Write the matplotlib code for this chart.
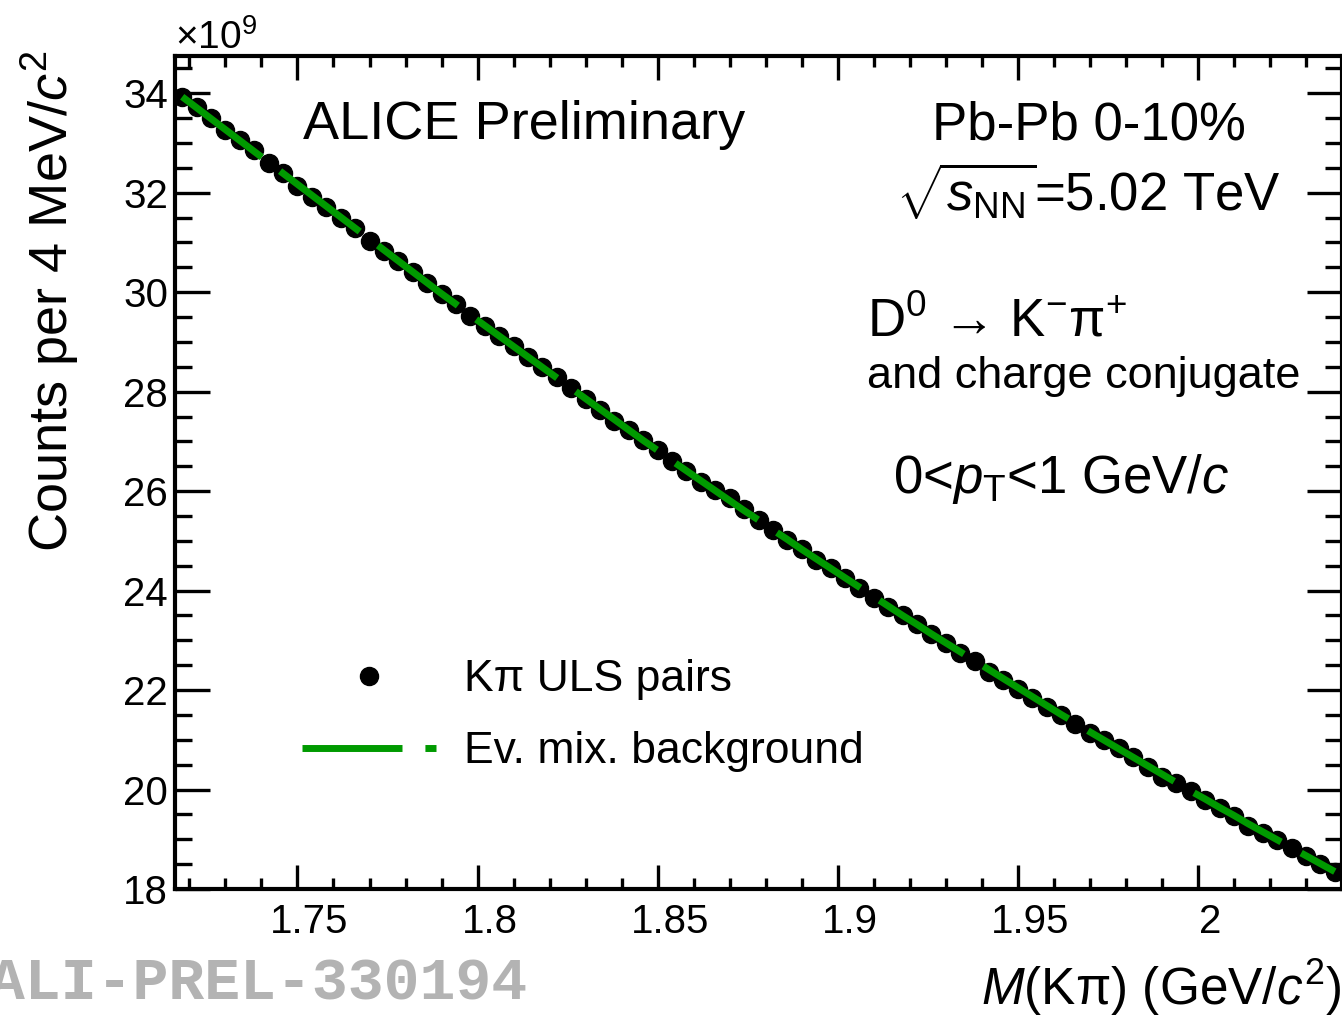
import matplotlib
matplotlib.use("Agg")
import matplotlib.pyplot as plt
import matplotlib.transforms as mtransforms
from matplotlib.ticker import MultipleLocator
import numpy as np

plt.rcParams['font.family'] = ['Liberation Sans', 'DejaVu Sans']
plt.rcParams['mathtext.fontset'] = 'custom'
plt.rcParams['mathtext.rm'] = 'Liberation Sans'
plt.rcParams['mathtext.it'] = 'Liberation Sans:italic'
plt.rcParams['mathtext.sf'] = 'Liberation Sans'

# 4 MeV bins, M(Kpi) in GeV/c^2
bin_lo = 1.716
bin_w = 0.004
n_bins = 81
mass = bin_lo + bin_w * (np.arange(n_bins) + 0.5)

# Kpi unlike-sign pairs (x 1e9)
uls_counts = [33.92, 33.73, 33.51, 33.27, 33.06, 32.85, 32.59, 32.39, 32.14, 31.92,
              31.71, 31.49, 31.29, 31.03, 30.82, 30.62, 30.41, 30.18, 29.97, 29.76,
              29.52, 29.32, 29.11, 28.91, 28.69, 28.50, 28.29, 28.07, 27.85, 27.63,
              27.42, 27.22, 27.02, 26.82, 26.61, 26.41, 26.19, 26.03, 25.86, 25.64,
              25.42, 25.22, 25.02, 24.83, 24.62, 24.45, 24.25, 24.05, 23.85, 23.68,
              23.51, 23.32, 23.13, 22.94, 22.74, 22.58, 22.37, 22.21, 22.02, 21.84,
              21.66, 21.50, 21.32, 21.14, 20.99, 20.83, 20.65, 20.46, 20.26, 20.13,
              19.98, 19.78, 19.63, 19.46, 19.27, 19.13, 18.98, 18.82, 18.66, 18.51,
              18.35]

# event-mixing background (x 1e9)
mix_bkg = [33.93, 33.71, 33.49, 33.27, 33.05, 32.83, 32.61, 32.39, 32.17, 31.95,
           31.73, 31.51, 31.29, 31.07, 30.85, 30.63, 30.41, 30.19, 29.97, 29.76,
           29.54, 29.33, 29.12, 28.91, 28.70, 28.49, 28.28, 28.07, 27.86, 27.65,
           27.44, 27.23, 27.02, 26.82, 26.61, 26.41, 26.21, 26.01, 25.81, 25.61,
           25.42, 25.22, 25.03, 24.83, 24.64, 24.45, 24.26, 24.07, 23.88, 23.69,
           23.50, 23.32, 23.13, 22.95, 22.77, 22.59, 22.41, 22.23, 22.05, 21.87,
           21.69, 21.51, 21.34, 21.16, 20.99, 20.82, 20.65, 20.48, 20.31, 20.14,
           19.97, 19.81, 19.64, 19.48, 19.31, 19.15, 18.99, 18.83, 18.67, 18.51,
           18.35]

fig = plt.figure(figsize=(13.42, 10.19), dpi=100)
ax = fig.add_axes([175/1342, 130/1019, 1167/1342, 833/1019])

ax.plot(mass, uls_counts, 'o', color='black', markersize=13, zorder=2,
        label='Kπ ULS pairs')
ax.plot(mass, mix_bkg, '-', color='#009a00', linewidth=5, dashes=(14.4, 3.3),
        zorder=3, label='Ev. mix. background')

ax.set_xlim(1.716, 2.04)
ax.set_ylim(18, 34.75)

ax.xaxis.set_major_locator(MultipleLocator(0.05))
ax.xaxis.set_minor_locator(MultipleLocator(0.01))
ax.yaxis.set_major_locator(MultipleLocator(2))
ax.yaxis.set_minor_locator(MultipleLocator(0.5))
ax.set_xticks([1.75, 1.8, 1.85, 1.9, 1.95, 2.0])
ax.set_xticklabels(['1.75', '1.8', '1.85', '1.9', '1.95', '2'])

ax.tick_params(which='both', direction='in', top=True, right=True, width=2.4,
               labelsize=29)
ax.tick_params(axis='x', which='major', length=17, pad=10)
ax.tick_params(axis='x', which='minor', length=8)
ax.tick_params(axis='y', which='major', length=25, pad=5)
ax.tick_params(axis='y', which='minor', length=12)
for sp in ax.spines.values():
    sp.set_linewidth(3)

# ROOT puts x labels a bit right of the tick
shift = mtransforms.ScaledTranslation(0.12, 0, fig.dpi_scale_trans)
for lab in ax.get_xticklabels():
    lab.set_transform(lab.get_transform() + shift)

ax.set_ylabel(r'Counts per 4 MeV/$c^{2}$', fontsize=39, loc='top')
ax.yaxis.set_label_coords(-0.107, 1.007)
ax.yaxis.label.set_va('center')
ax.set_xlabel(r'$M$(Kπ) (GeV/$c^{2}$)', fontsize=37, loc='right')
ax.xaxis.set_label_coords(1.0, -0.139)
ax.xaxis.label.set_va('baseline')

ax.text(0.0, 1.008, r'$\times$10$^{9}$', transform=ax.transAxes, fontsize=28,
        ha='left', va='baseline')

ax.text(0.110, 0.900, 'ALICE Preliminary', transform=ax.transAxes, fontsize=39,
        ha='left', va='baseline')
ax.text(0.783, 0.900, 'Pb-Pb 0-10%', transform=ax.transAxes, fontsize=38,
        ha='center', va='baseline')
ax.text(0.783, 0.813, r'$\sqrt{s_{\mathrm{NN}}}$=5.02 TeV', transform=ax.transAxes,
        fontsize=38, ha='center', va='baseline')
ax.text(0.593, 0.663, r'D$^{0}$ → K$^{-}$π$^{+}$', transform=ax.transAxes,
        fontsize=38, ha='left', va='baseline')
ax.text(0.593, 0.601, 'and charge conjugate', transform=ax.transAxes, fontsize=32.5,
        ha='left', va='baseline')
ax.text(0.615, 0.475, r'0<$p_{\mathrm{T}}$<1 GeV/$c$', transform=ax.transAxes,
        fontsize=38, ha='left', va='baseline')

ax.legend(loc='center left', bbox_to_anchor=(0.109, 0.208), frameon=False,
          fontsize=32, handlelength=3.0, handletextpad=0.63, labelspacing=0.7,
          borderpad=0, borderaxespad=0, numpoints=1)

fig.text(527/1342, 1 - 1000/1019, 'ALI-PREL-330194', fontsize=43,
         family='Liberation Mono', weight='bold', color='#b3b3b3',
         ha='right', va='baseline')

fig.savefig('out.png', dpi=100)
